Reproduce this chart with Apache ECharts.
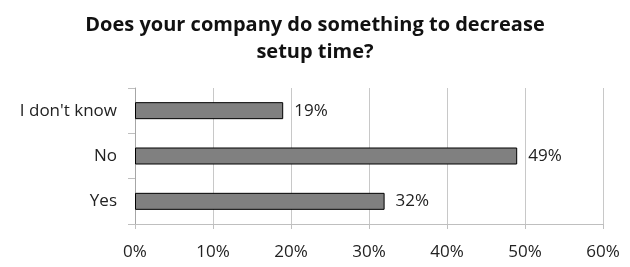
<!DOCTYPE html>
<html>
<head>
<meta charset="utf-8">
<script src="https://cdn.jsdelivr.net/npm/echarts@6/dist/echarts.min.js"></script>
<style>
    html, body { margin: 0; padding: 0; background: #fff; }
    #main { width: 630px; height: 267px; }
</style>
</head>
<body>
<div id="main"></div>
<script>
// categories bottom to top, as the axis draws them
const categories = ['Yes', 'No', "I don't know"]
const shares = [32, 49, 19]
const tickLabels = ['0%', '10%', '20%', '30%', '40%', '50%', '60%']

const chart = echarts.init(document.getElementById('main'))
const font = '"Open Sans", sans-serif'

chart.setOption({
    animation: false,
    title: {
        text: 'Does your company do something to decrease\nsetup time?',
        left: 'center',
        top: 7,
        textStyle: {
            fontFamily: font,
            fontSize: 20,
            fontWeight: 'bold',
            color: '#111',
            lineHeight: 27,
        },
    },
    grid: {
        left: 135,
        right: 27,
        top: 88,
        bottom: 43,
    },
    xAxis: {
        type: 'value',
        min: 0,
        max: 60,
        interval: 10,
        axisLine: { show: true, lineStyle: { color: '#bfbfbf' } },
        axisTick: { show: true, length: 5, lineStyle: { color: '#bfbfbf' } },
        splitLine: { show: true, lineStyle: { color: '#c8c8c8' } },
        axisLabel: {
            margin: 20,
            fontFamily: font,
            fontSize: 17,
            color: '#222',
            formatter: (v) => tickLabels[v / 10],
        },
    },
    yAxis: {
        type: 'category',
        data: categories,
        axisLine: { show: true, lineStyle: { color: '#a6a6a6' } },
        axisTick: { show: true, length: 7, lineStyle: { color: '#bfbfbf' } },
        axisLabel: {
            margin: 18,
            fontFamily: font,
            fontSize: 17,
            color: '#222',
        },
    },
    series: [
        {
            type: 'bar',
            data: shares,
            barWidth: 17,
            itemStyle: {
                color: '#808080',
                borderColor: '#000',
                borderWidth: 1,
            },
            label: {
                show: true,
                position: 'right',
                distance: 11,
                fontFamily: font,
                fontSize: 17,
                color: '#222',
                formatter: '{c}%',
            },
        },
    ],
})
</script>
</body>
</html>
